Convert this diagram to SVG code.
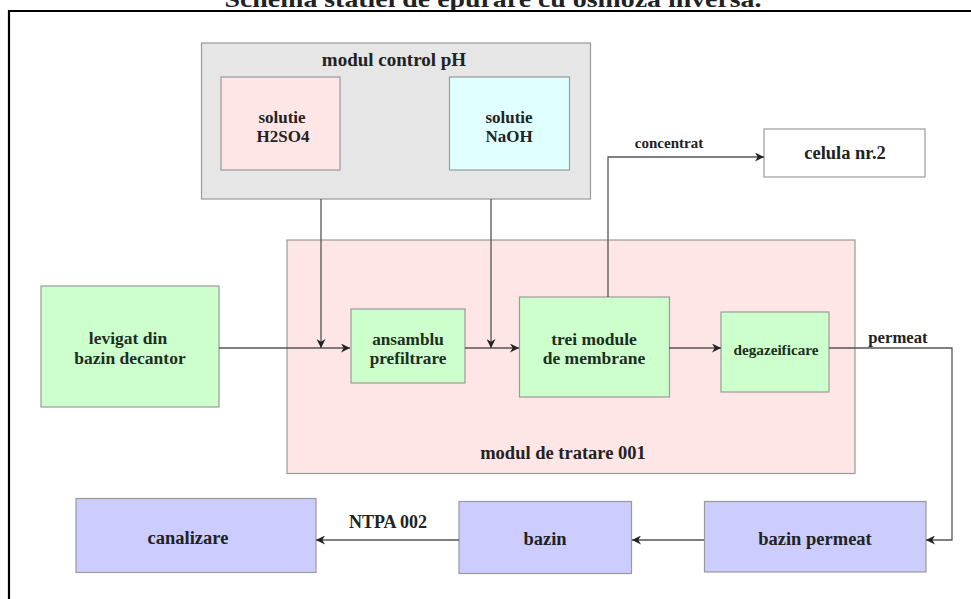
<svg xmlns="http://www.w3.org/2000/svg" width="971" height="599" viewBox="0 0 971 599" font-family="'Liberation Serif', 'Times New Roman', serif">
  <defs>
    <style>
      text { font-family: 'Liberation Serif', 'Times New Roman', serif; font-weight: bold; fill: #222; text-anchor: middle; }
      .box { stroke: #9a9a9a; stroke-width: 1.2; }
      .gray { fill: #e6e6e6; }
      .pink { fill: #ffe6e6; }
      .cyan { fill: #e0ffff; }
      .green { fill: #ccffcc; }
      .lav { fill: #ccccff; }
      .white { fill: #ffffff; }
      .g text { fill: #1e2e1e; }
      .conn path { fill: none; stroke: #555; stroke-width: 1.3; }
    </style>
    <marker id="arr" viewBox="0 0 10 10" refX="10" refY="5" markerWidth="9" markerHeight="9" markerUnits="userSpaceOnUse" orient="auto">
      <path d="M0,0 L10,5 L0,10 L3,5 z" fill="#222"/>
    </marker>
  </defs>

  <rect width="971" height="599" fill="#ffffff"/>

  <!-- title (cut off at top, as in the reference) -->
  <text x="493" y="7" font-size="24" textLength="537" lengthAdjust="spacingAndGlyphs">Schema statiei de epurare cu osmoza inversa.</text>

  <!-- frame -->
  <path d="M9,599 V11 H971" fill="none" stroke="#000" stroke-width="2.2"/>

  <g id="modul-control-ph">
    <rect class="box gray" x="201.5" y="43" width="389" height="156"/>
    <text x="394" y="66" font-size="19">modul control pH</text>
  </g>

  <g id="solutie-h2so4">
    <rect class="box pink" x="221" y="77" width="119" height="93"/>
    <text x="282" y="123" font-size="17">solutie</text>
    <text x="283" y="142" font-size="17">H2SO4</text>
  </g>

  <g id="solutie-naoh">
    <rect class="box cyan" x="449.5" y="77" width="120" height="93"/>
    <text x="509" y="123" font-size="17">solutie</text>
    <text x="509" y="142" font-size="17">NaOH</text>
  </g>

  <g id="celula-nr2">
    <rect class="box white" x="764" y="129" width="161" height="48"/>
    <text x="845" y="159" font-size="18.5">celula nr.2</text>
  </g>

  <g id="modul-tratare-001">
    <rect class="box pink" x="287" y="240" width="568" height="233.5"/>
    <text x="563" y="459" font-size="18.5">modul de tratare 001</text>
  </g>

  <g id="levigat" class="g">
    <rect class="box green" x="41" y="286" width="178" height="121"/>
    <text x="128" y="344" font-size="17.5">levigat din</text>
    <text x="130" y="364" font-size="17.5">bazin decantor</text>
  </g>

  <g id="ansamblu-prefiltrare" class="g">
    <rect class="box green" x="351" y="309" width="114" height="74"/>
    <text x="408" y="345" font-size="17.2">ansamblu</text>
    <text x="408" y="364" font-size="17.2">prefiltrare</text>
  </g>

  <g id="trei-module" class="g">
    <rect class="box green" x="519.5" y="297" width="150" height="100"/>
    <text x="594" y="345" font-size="17.5">trei module</text>
    <text x="594" y="364" font-size="17.5">de membrane</text>
  </g>

  <g id="degazeificare" class="g">
    <rect class="box green" x="721" y="312" width="108" height="80"/>
    <text x="776" y="355" font-size="15.2">degazeificare</text>
  </g>

  <g id="bazin-permeat">
    <rect class="box lav" x="704.5" y="501.5" width="221.5" height="70.5"/>
    <text x="815" y="545" font-size="18.5">bazin permeat</text>
  </g>

  <g id="bazin">
    <rect class="box lav" x="459" y="501.5" width="172.5" height="72"/>
    <text x="545" y="545" font-size="18.5">bazin</text>
  </g>

  <g id="canalizare">
    <rect class="box lav" x="76" y="498.5" width="240" height="74"/>
    <text x="188" y="544" font-size="18.5">canalizare</text>
  </g>

  <g id="connectors" class="conn">
    <path d="M219,348 H350" marker-end="url(#arr)"/>
    <path d="M321,199 V348" marker-end="url(#arr)"/>
    <path d="M465,348 H519" marker-end="url(#arr)"/>
    <path d="M491,199 V348" marker-end="url(#arr)"/>
    <path d="M669,348 H721" marker-end="url(#arr)"/>
    <path d="M608,297 V157 H764" marker-end="url(#arr)"/>
    <path d="M829,348 H952 V540 H926" marker-end="url(#arr)"/>
    <path d="M704,540 H632" marker-end="url(#arr)"/>
    <path d="M459,540 H316" marker-end="url(#arr)"/>
  </g>

  <g id="connector-labels">
    <text x="669" y="148" font-size="15">concentrat</text>
    <text x="898" y="343" font-size="16.7">permeat</text>
    <text x="388" y="528" font-size="18">NTPA 002</text>
  </g>
</svg>
